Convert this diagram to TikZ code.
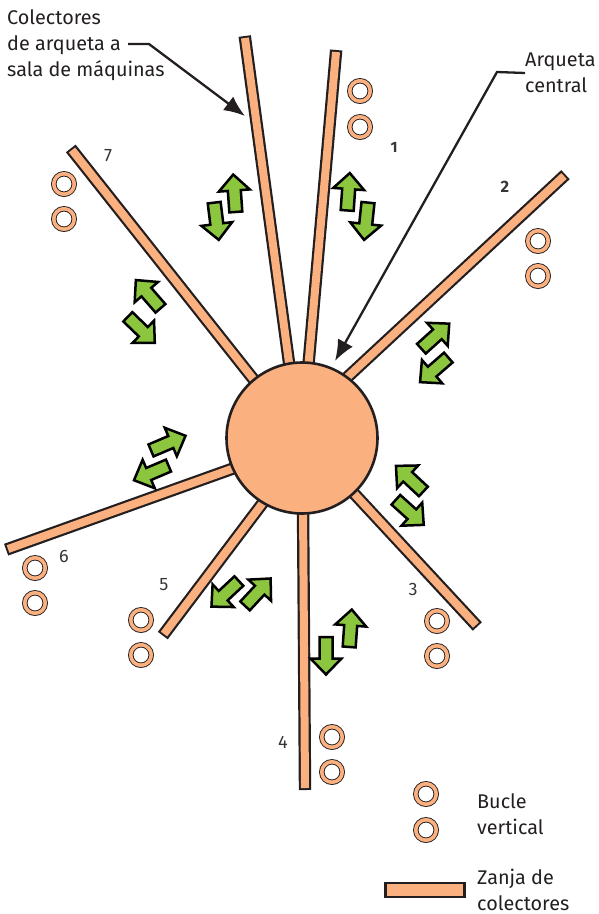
\documentclass[tikz,border=0pt]{standalone}
\usepackage{fontspec}
\setmainfont{Fira Sans}
\usetikzlibrary{arrows.meta}
\definecolor{ZanjaTan}{HTML}{FBB07F}
\definecolor{FlechaGreen}{HTML}{8CC63F}
\definecolor{Tinta}{HTML}{231F20}
\tikzset{
  rotulo/.style={font=\fontsize{19.8}{25.7}\selectfont, text=Tinta, inner sep=0pt, align=left, anchor=west},
  cifra/.style={font=\fontsize{18}{20}\selectfont, text=Tinta!90!white, inner sep=0pt},
  bucle/.style={circle, draw=Tinta, line width=0.9pt, double=ZanjaTan, double distance=3.6pt, fill=white, minimum size=20.5pt, inner sep=0pt},
  guia/.style={draw=Tinta, line width=2.3pt, -{Latex[length=21pt, width=17pt]}},
  flecha/.pic={\draw[draw=black, line width=2.5pt, fill=FlechaGreen, miter limit=6]
    (18.5,0) -- (2.5,15.5) -- (2.5,6.5) -- (-19,6.5) -- (-19,-6.5) -- (2.5,-6.5) -- (2.5,-15.5) -- cycle;}
}
\begin{document}
\begin{tikzpicture}[x=1pt, y=-1pt]
  \useasboundingbox (0,0) rectangle (598,914);

  % --- Trenches ---
  \foreach \xa/\ya/\xb/\yb in {245/38/290/370, 336/52/308/370, 564/176/340/384, 72/150/258/385,
                               8/549/240/466, 164/634/268/496, 305/788/303/505, 476/625/348/487} {
    \draw[Tinta, line width=12.4pt, shorten <=-2pt] (\xa,\ya) -- (\xb,\yb);
    \draw[ZanjaTan, line width=8pt] (\xa,\ya) -- (\xb,\yb);
  }

  % --- Central chamber ---
  \node[circle, draw=Tinta, line width=2.6pt, fill=ZanjaTan, minimum size=151pt, inner sep=0pt] (arqueta) at (302,438) {};

  % --- Vertical loops ---
  \foreach \name/\x/\ya/\yb in {uno/360/91/127, dos/538/241/276, tres/437/621/656, cuatro/332/737/772,
                                cinco/141/620/655, seis/35/568/603, siete/64/184/219, leyenda/426/794/830} {
    \node[bucle] (\name a) at (\x,\ya) {};
    \node[bucle] (\name b) at (\x,\yb) {};
  }

  % --- Flow arrows ---
  \foreach \x/\y/\ang in {234.5/193/94, 216.5/221.5/277, 348.5/191.5/86, 366/221.5/264,
                          435.5/336/42, 434/370/221, 409.5/478.5/137, 410/512.5/318,
                          350.5/628/86, 326/656/270, 225/594/223, 258/592/47,
                          168.5/443/23, 151/473/203, 148/294/131, 141.5/330/316} {
    \pic[rotate=\ang] at (\x,\y) {flecha};
  }

  % --- Trench numbers ---
  \node[cifra, font=\fontsize{15}{15}\bfseries] (num1) at (394,147) {1};
  \node[cifra, font=\fontsize{16.5}{15}\bfseries] (num2) at (505,187) {2};
  \node[cifra] (num3) at (413,589) {3};
  \node[cifra] (num4) at (283,742) {4};
  \node[cifra] (num5) at (164,585) {5};
  \node[cifra] (num6) at (64,556) {6};
  \node[cifra] (num7) at (108,156) {7};

  % --- Callouts ---
  \node[rotulo] (colectores) at (7,45) {Colectores\\de arqueta a\\sala de máquinas};
  \node[rotulo] (central) at (525,73) {Arqueta\\central};
  \coordinate (colini) at (128,44);
  \coordinate (colcodo) at (149,44);
  \coordinate (colfin) at (245,116);
  \coordinate (arqcodo) at (497,72);
  \coordinate (arqfin) at (335,361);
  \draw[guia] (colini) -- (colcodo) -- (colfin);
  \draw[guia] (central.west) -- (arqcodo) -- (arqfin);

  % --- Legend ---
  \node[rotulo] (leybucle) at (477,814) {Bucle\\vertical};
  \node[rotulo] (leyzanja) at (477,890) {Zanja de\\colectores};
  \node[draw=Tinta, line width=2.6pt, fill=ZanjaTan, minimum width=79pt, minimum height=14pt, inner sep=0pt] (leymuestra) at (425,890) {};
\end{tikzpicture}
\end{document}
